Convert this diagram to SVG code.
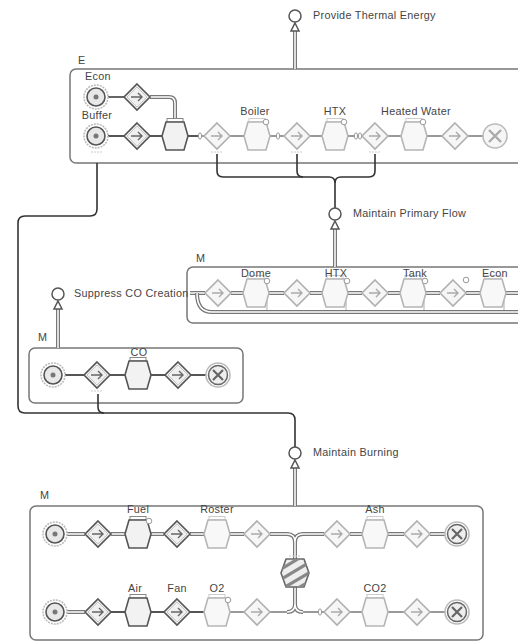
<svg xmlns="http://www.w3.org/2000/svg" xmlns:xlink="http://www.w3.org/1999/xlink" width="518" height="644" viewBox="0 0 518 644">
<style>
text{font-family:"Liberation Sans",Arial,sans-serif;font-size:10.8px;fill:#444;letter-spacing:0.3px}
.lbl{text-anchor:middle}
.ctr{fill:none;stroke:#777;stroke-width:1.5}
.ln{fill:none;stroke:#555;stroke-width:1.8}
.lnl{fill:none;stroke:#999;stroke-width:1.8}
.link{fill:none;stroke:#333;stroke-width:1.6}
.dbo{fill:none;stroke:#777;stroke-width:4}
.dbi{fill:none;stroke:#fff;stroke-width:1.5}
.goal{fill:#fff;stroke:#555;stroke-width:1.5}
.mark{stroke:#ccc;stroke-width:1;stroke-dasharray:2 1}
</style>
<defs>
<g id="startD">
<circle r="12" fill="none" stroke="#bbb" stroke-width="1.6" stroke-dasharray="2 1"/>
<circle r="9" fill="#e8e8e8" stroke="#555" stroke-width="1.6"/>
<circle r="2.5" fill="#777"/>
</g>
<g id="diaD">
<polygon points="0,-13 13,0 0,13 -13,0" fill="#f0f0f0" stroke="#555" stroke-width="1.6"/>
<polygon points="0,-10 10,0 0,10 -10,0" fill="none" stroke="#bbb" stroke-width="0.8"/>
<path d="M-6,0 H5 M1,-4 L5,0 L1,4" fill="none" stroke="#666" stroke-width="1.4"/>
</g>
<g id="diaL">
<polygon points="0,-13 13,0 0,13 -13,0" fill="#f6f6f6" stroke="#b0b0b0" stroke-width="1.6"/>
<path d="M-6,0 H5 M1,-4 L5,0 L1,4" fill="none" stroke="#aaa" stroke-width="1.4"/>
</g>
<g id="hexD">
<rect x="-8" y="-17.5" width="16" height="3.5" fill="#fff" stroke="#888" stroke-width="1"/>
<polygon points="-9,-14 9,-14 13,0 9,14 -9,14 -13,0" fill="#f2f2f2" stroke="#555" stroke-width="1.6"/>
</g>
<g id="hexL">
<rect x="-8" y="-17.5" width="16" height="3.5" fill="#fff" stroke="#ccc" stroke-width="1"/>
<polygon points="-9,-14 9,-14 13,0 9,14 -9,14 -13,0" fill="#f8f8f8" stroke="#b5b5b5" stroke-width="1.6"/>
</g>
<g id="endD">
<circle r="12" fill="none" stroke="#bbb" stroke-width="1.6"/>
<circle r="9.5" fill="#eee" stroke="#666" stroke-width="1.5"/>
<path d="M-5,-5 L5,5 M5,-5 L-5,5" stroke="#666" stroke-width="2.2"/>
</g>
<g id="endL">
<circle r="12" fill="#f6f6f6" stroke="#bbb" stroke-width="1.6"/>
<path d="M-6,-6 L6,6 M6,-6 L-6,6" stroke="#aaa" stroke-width="2.4"/>
</g>
<g id="dot"><circle r="2.8" fill="#fff" stroke="#999" stroke-width="1"/></g>
<g id="port"><ellipse rx="1.6" ry="3.2" fill="#fff" stroke="#999" stroke-width="1"/></g>
<g id="mk"><path class="mark" d="M-6,0 H6"/></g>
<clipPath id="stripeClip"><polygon points="286,559 304,559 309,573 304,587 286,587 281,573"/></clipPath>
</defs>

<!-- containers -->
<g id="containerE">
<rect class="ctr" x="70" y="69" width="470" height="94" rx="6"/>
<text x="78" y="64">E</text>
</g>
<g id="containerM1">
<rect class="ctr" x="187" y="267" width="350" height="56" rx="6"/>
<text x="196" y="262">M</text>
</g>
<g id="containerM2">
<rect class="ctr" x="29" y="348" width="214" height="55" rx="6"/>
<text x="38" y="341">M</text>
</g>
<g id="containerM3">
<rect class="ctr" x="30" y="506" width="453" height="134" rx="6"/>
<text x="40" y="499">M</text>
</g>

<!-- connectors -->
<g id="connectors">
<path class="dbo" d="M295,69 V30"/><path class="dbi" d="M295,69 V30"/>
<polygon class="goal" points="295,23 299,31 291,31"/>
<path class="dbo" d="M335,267 V228"/><path class="dbi" d="M335,267 V228"/>
<polygon class="goal" points="335,221 339,229 331,229"/>
<path class="dbo" d="M58,348 V308"/><path class="dbi" d="M58,348 V308"/>
<polygon class="goal" points="58,301 62,309 54,309"/>
<path class="dbo" d="M295,506 V467"/><path class="dbi" d="M295,506 V467"/>
<polygon class="goal" points="295,460 299,468 291,468"/>

<path class="link" d="M217,154 V171 Q217,177 223,177 H329 Q335,177 335,183 V208"/>
<path class="link" d="M375,154 V171 Q375,177 369,177 H341 Q335,177 335,183"/>
<path class="link" d="M297,154 V171 Q297,177 303,177"/>
<path class="link" d="M97,163 V209 Q97,216 90,216 H25 Q18,216 18,223 V406 Q18,413 25,413 H288 Q295,413 295,420 V447"/>
<path class="link" d="M98,394 V407 Q98,413 104,413"/>

<path class="ln" d="M108,97 H124"/>
<path class="dbo" d="M150,97 H169 Q175,97 175,103 V118"/><path class="dbi" d="M150,97 H169 Q175,97 175,103 V118"/>
<path class="ln" d="M108,136 H124 M150,136 H162 M188,136 H198"/>
<path class="lnl" d="M202,136 H204 M230,136 H244 M270,136 H276 M280,136 H284 M310,136 H322 M348,136 H355 M361,136 H362 M388,136 H401 M427,136 H442 M468,136 H483"/>

<path class="dbo" d="M190,293 H205 M231,293 H243 M269,293 H284 M310,293 H322 M348,293 H362 M388,293 H400 M426,293 H440 M466,293 H480 M506,293 H520"/>
<path class="dbi" d="M190,293 H205 M231,293 H243 M269,293 H284 M310,293 H322 M348,293 H362 M388,293 H400 M426,293 H440 M466,293 H480 M506,293 H520"/>
<path class="dbo" d="M197,293 Q197,312 212,312 H525"/><path class="dbi" d="M197,293 Q197,312 212,312 H525"/>
<path fill="none" stroke="#bbb" stroke-width="1.2" d="M267,301 V310 M346,301 V310 M424,301 V310 M504,301 V310"/>

<path class="ln" d="M65,375 H84 M110,375 H125 M151,375 H165 M191,375 H206"/>

<path class="dbo" d="M67,534 H85 M111,534 H125 M151,534 H164 M190,534 H204 M230,534 H244 M270,534 H287 Q295,534 295,542 V559 M295,542 Q295,534 303,534 H324 M350,534 H362 M388,534 H404 M430,534 H445"/>
<path class="dbi" d="M67,534 H85 M111,534 H125 M151,534 H164 M190,534 H204 M230,534 H244 M270,534 H287 Q295,534 295,542 V559 M295,542 Q295,534 303,534 H324 M350,534 H362 M388,534 H404 M430,534 H445"/>
<path class="dbo" d="M67,612 H85 M295,587 V604 Q295,612 287,612 M295,604 Q295,612 303,612"/>
<path class="dbi" d="M67,612 H85 M295,587 V604 Q295,612 287,612 M295,604 Q295,612 303,612"/>
<path class="ln" d="M111,612 H125 M151,612 H164 M190,612 H204"/>
<path class="lnl" d="M230,612 H244 M270,612 H287 M303,612 H318 M322,612 H324 M350,612 H362 M388,612 H404 M430,612 H445"/>
</g>

<!-- goals -->
<g id="goal-thermal"><circle class="goal" cx="295" cy="16" r="6"/><text x="313" y="19">Provide Thermal Energy</text></g>
<g id="goal-primary"><circle class="goal" cx="335" cy="214" r="6"/><text x="353" y="217">Maintain Primary Flow</text></g>
<g id="goal-co"><circle class="goal" cx="58" cy="294" r="6"/><text x="74" y="297">Suppress CO Creation</text></g>
<g id="goal-burning"><circle class="goal" cx="295" cy="453" r="6"/><text x="313" y="456">Maintain Burning</text></g>

<!-- E nodes -->
<g id="e-econ"><use href="#startD" x="96" y="97"/><text class="lbl" x="98" y="80">Econ</text></g>
<g id="e-d1"><use href="#diaD" x="137" y="97"/></g>
<g id="e-buffer"><use href="#startD" x="96" y="136"/><text class="lbl" x="97" y="119">Buffer</text><use href="#mk" x="97" y="152"/></g>
<g id="e-d2"><use href="#diaD" x="137" y="136"/></g>
<g id="e-h1"><use href="#hexD" x="175" y="136"/></g>
<g id="e-p1"><use href="#port" x="200" y="136"/></g>
<g id="e-d3"><use href="#diaL" x="217" y="136"/><use href="#mk" x="217" y="152"/></g>
<g id="e-boiler"><use href="#hexL" x="257" y="136"/><use href="#dot" x="266" y="122"/><text class="lbl" x="255" y="115">Boiler</text></g>
<g id="e-p2"><use href="#port" x="278" y="136"/></g>
<g id="e-d4"><use href="#diaL" x="297" y="136"/><use href="#mk" x="297" y="152"/></g>
<g id="e-htx"><use href="#hexL" x="335" y="136"/><use href="#dot" x="344" y="122"/><text class="lbl" x="335" y="115">HTX</text></g>
<g id="e-p3"><use href="#port" x="356" y="136"/><use href="#port" x="360" y="136"/></g>
<g id="e-d5"><use href="#diaL" x="375" y="136"/><use href="#mk" x="375" y="152"/></g>
<g id="e-hw"><use href="#hexL" x="414" y="136"/><use href="#dot" x="423" y="122"/><text class="lbl" x="416" y="115">Heated Water</text></g>
<g id="e-d6"><use href="#diaL" x="455" y="136"/></g>
<g id="e-end"><use href="#endL" x="495" y="136"/></g>

<!-- middle M nodes -->
<g id="m-d1"><use href="#diaL" x="218" y="293"/></g>
<g id="m-dome"><use href="#hexL" x="256" y="293"/><use href="#dot" x="267" y="281"/><text class="lbl" x="256" y="277">Dome</text></g>
<g id="m-d2"><use href="#diaL" x="297" y="293"/></g>
<g id="m-htx"><use href="#hexL" x="335" y="293"/><use href="#dot" x="347" y="281"/><text class="lbl" x="336" y="277">HTX</text></g>
<g id="m-d3"><use href="#diaL" x="375" y="293"/></g>
<g id="m-tank"><use href="#hexL" x="413" y="293"/><use href="#dot" x="425" y="281"/><text class="lbl" x="415" y="277">Tank</text></g>
<g id="m-d4"><use href="#diaL" x="453" y="293"/><use href="#dot" x="466" y="280"/></g>
<g id="m-econ"><use href="#hexL" x="493" y="293"/><text class="lbl" x="495" y="277">Econ</text></g>

<!-- CO nodes -->
<g id="co-start"><use href="#startD" x="53" y="375"/></g>
<g id="co-d1"><use href="#diaD" x="97" y="375"/><use href="#mk" x="97" y="391"/></g>
<g id="co-co"><use href="#hexD" x="138" y="375"/><text class="lbl" x="139" y="356">CO</text></g>
<g id="co-d2"><use href="#diaD" x="178" y="375"/></g>
<g id="co-end"><use href="#endD" x="218" y="375"/></g>

<!-- bottom row 1 -->
<g id="b-start1"><use href="#startD" x="55" y="534"/></g>
<g id="b-d1"><use href="#diaD" x="98" y="534"/></g>
<g id="b-fuel"><use href="#hexD" x="138" y="534"/><use href="#dot" x="149" y="521"/><text class="lbl" x="138" y="513">Fuel</text></g>
<g id="b-d2"><use href="#diaD" x="177" y="534"/></g>
<g id="b-roster"><use href="#hexL" x="217" y="534"/><text class="lbl" x="217" y="513">Roster</text></g>
<g id="b-d3"><use href="#diaL" x="257" y="534"/></g>
<g id="b-d4"><use href="#diaL" x="337" y="534"/></g>
<g id="b-ash"><use href="#hexL" x="375" y="534"/><text class="lbl" x="375" y="513">Ash</text></g>
<g id="b-d5"><use href="#diaL" x="417" y="534"/></g>
<g id="b-end1"><use href="#endD" x="457" y="534"/></g>

<!-- combustion -->
<g id="b-burn">
<use href="#mk" x="295" y="556"/>
<polygon points="286,559 304,559 309,573 304,587 286,587 281,573" fill="#eee" stroke="#666" stroke-width="1.6" stroke-linejoin="round"/>
<g clip-path="url(#stripeClip)" stroke="#888" stroke-width="3.2">
<path d="M280,580 L310,562 M280,590 L312,571 M284,596 L314,579 M278,571 L306,554"/>
</g>
</g>

<!-- bottom row 2 -->
<g id="b-start2"><use href="#startD" x="55" y="612"/></g>
<g id="b-d6"><use href="#diaD" x="98" y="612"/></g>
<g id="b-air"><use href="#hexD" x="138" y="612"/><text class="lbl" x="135" y="592">Air</text></g>
<g id="b-fan"><use href="#diaD" x="177" y="612"/><text class="lbl" x="177" y="592">Fan</text></g>
<g id="b-o2"><use href="#hexL" x="217" y="612"/><use href="#dot" x="228" y="600"/><text class="lbl" x="217" y="592">O2</text></g>
<g id="b-d7"><use href="#diaL" x="257" y="612"/></g>
<g id="b-p1"><use href="#port" x="320" y="612"/></g>
<g id="b-d8"><use href="#diaL" x="337" y="612"/></g>
<g id="b-co2"><use href="#hexL" x="375" y="612"/><text class="lbl" x="375" y="592">CO2</text></g>
<g id="b-d9"><use href="#diaL" x="417" y="612"/></g>
<g id="b-end2"><use href="#endD" x="457" y="612"/></g>
</svg>
